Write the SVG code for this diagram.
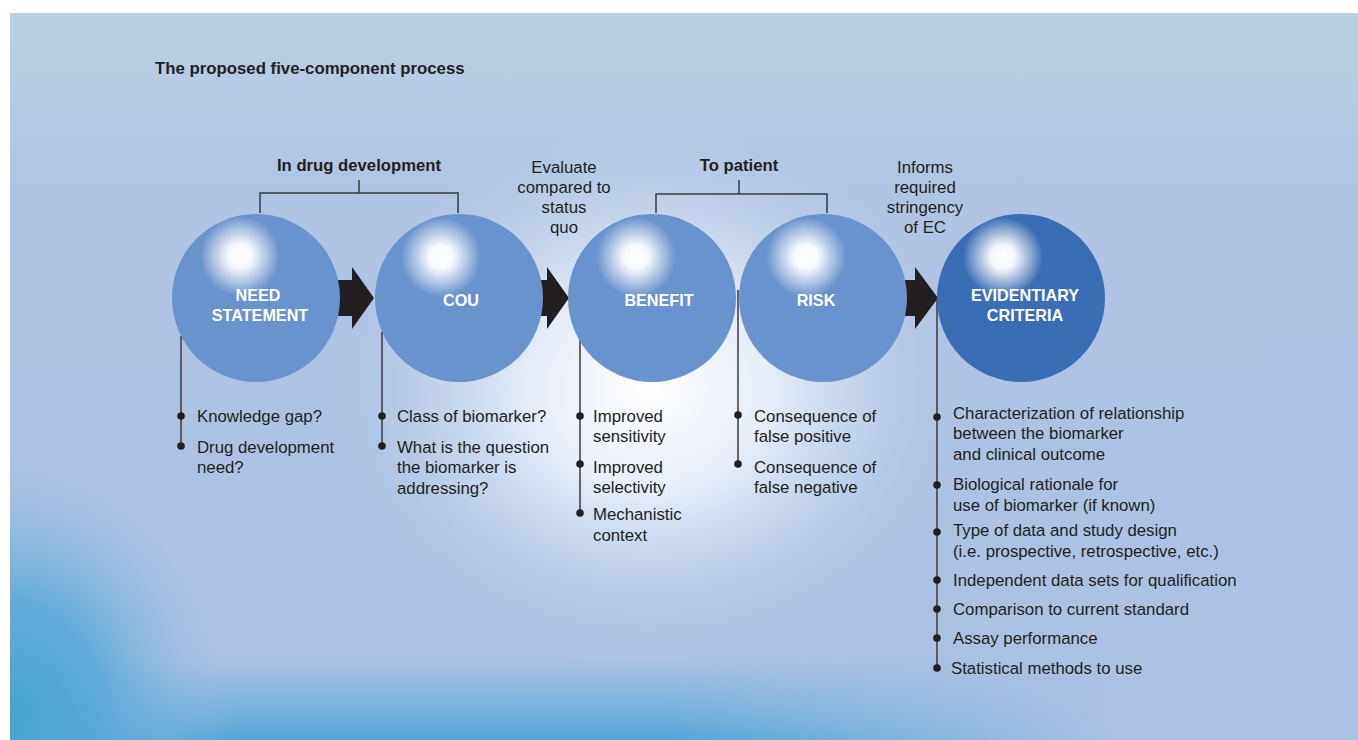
<svg xmlns="http://www.w3.org/2000/svg" width="1358" height="740" viewBox="0 0 1358 740">
  <defs>
    <linearGradient id="bgBase" x1="0" y1="0" x2="0" y2="1">
      <stop offset="0" stop-color="#bccfe2"/>
      <stop offset="0.25" stop-color="#afc4e5"/>
      <stop offset="1" stop-color="#a9c1e4"/>
    </linearGradient>
    <radialGradient id="bgGlow" cx="650" cy="390" r="330" gradientUnits="userSpaceOnUse" gradientTransform="translate(650 390) scale(1 0.85) translate(-650 -390)">
      <stop offset="0" stop-color="#ffffff" stop-opacity="1"/>
      <stop offset="0.35" stop-color="#f2f6fc" stop-opacity="0.85"/>
      <stop offset="0.7" stop-color="#d3e0f2" stop-opacity="0.4"/>
      <stop offset="1" stop-color="#b0c5e6" stop-opacity="0"/>
    </radialGradient>
    <radialGradient id="bgCorner" cx="10" cy="710" r="270" gradientUnits="userSpaceOnUse" gradientTransform="translate(10 710) scale(0.85 1) translate(-10 -710)">
      <stop offset="0" stop-color="#45a3d2"/>
      <stop offset="0.4" stop-color="#55a8d6" stop-opacity="0.85"/>
      <stop offset="1" stop-color="#a9c1e4" stop-opacity="0"/>
    </radialGradient>
    <linearGradient id="bgBottomFade" x1="0" y1="0" x2="0" y2="1">
      <stop offset="0" stop-color="#5aa9d7" stop-opacity="0"/>
      <stop offset="0.6" stop-color="#5aa9d7" stop-opacity="0.6"/>
      <stop offset="1" stop-color="#4da4d4" stop-opacity="0.95"/>
    </linearGradient>
    <linearGradient id="bgBottomMask" x1="0" y1="0" x2="1" y2="0">
      <stop offset="0" stop-color="#ffffff"/>
      <stop offset="0.6" stop-color="#ffffff"/>
      <stop offset="1" stop-color="#000000"/>
    </linearGradient>
    <mask id="bottomMask" maskUnits="userSpaceOnUse" x="10" y="640" width="1100" height="100">
      <rect x="10" y="640" width="1100" height="100" fill="url(#bgBottomMask)"/>
    </mask>
    <radialGradient id="shine" cx="0.5" cy="0.5" r="0.5">
      <stop offset="0" stop-color="#ffffff"/>
      <stop offset="0.3" stop-color="#ffffff" stop-opacity="0.95"/>
      <stop offset="1" stop-color="#ffffff" stop-opacity="0"/>
    </radialGradient>
  </defs>
  <style>
    .title { font-family: "Liberation Sans", Arial, sans-serif; font-size: 16.8px; font-weight: bold; fill: #231f20; }
    .head { font-family: "Liberation Sans", Arial, sans-serif; font-size: 16.7px; font-weight: bold; fill: #231f20; text-anchor: middle; }
    .note { font-family: "Liberation Sans", Arial, sans-serif; font-size: 16.8px; fill: #231f20; text-anchor: middle; }
    .item { font-family: "Liberation Sans", Arial, sans-serif; font-size: 16.8px; fill: #231f20; }
    .label { font-family: "Liberation Sans", Arial, sans-serif; font-size: 16.2px; font-weight: bold; fill: #ffffff; text-anchor: middle; }
    .ball { fill: #6993cc; }
    .ball-ec { fill: #3b6db4; }
    .glint { fill: url(#shine); }
    .wire { stroke: #3a3a3c; stroke-width: 1.5; fill: none; }
    .dot { fill: #231f20; }
    .arrow { fill: #231f20; }
  </style>

  <!-- backdrop -->
  <rect x="0" y="0" width="1358" height="740" fill="#ffffff"/>
  <rect x="10" y="13" width="1348" height="727" fill="url(#bgBase)"/>
  <rect x="10" y="13" width="1348" height="727" fill="url(#bgGlow)"/>
  <rect x="10" y="660" width="1100" height="80" fill="url(#bgBottomFade)" mask="url(#bottomMask)"/>
  <rect x="10" y="13" width="1348" height="727" fill="url(#bgCorner)"/>

  <text class="title" x="155" y="74">The proposed five-component process</text>

  <!-- group brackets and side notes -->
  <g id="bracket-drug">
    <text class="head" x="359" y="171">In drug development</text>
    <path class="wire" d="M359 180 V193 M260 213 V193 H458 V213"/>
  </g>
  <g id="bracket-patient">
    <text class="head" x="739" y="171">To patient</text>
    <path class="wire" d="M739 180 V194 M656 213 V194 H827 V213"/>
  </g>
  <g id="note-evaluate">
    <text class="note" x="564" y="173">Evaluate</text>
    <text class="note" x="564" y="193">compared to</text>
    <text class="note" x="564" y="213">status</text>
    <text class="note" x="564" y="233">quo</text>
  </g>
  <g id="note-informs">
    <text class="note" x="925" y="173">Informs</text>
    <text class="note" x="925" y="193">required</text>
    <text class="note" x="925" y="213">stringency</text>
    <text class="note" x="925" y="233">of EC</text>
  </g>

  <!-- connectors: block arrows and bullet rails -->
  <g id="connectors">
    <path class="arrow" d="M336 280 H352 V267 L374 298 L352 329 V316 H336 Z"/>
    <path class="arrow" d="M540 280 H547 V267 L569 298 L547 329 V316 H540 Z"/>
    <path class="arrow" d="M904 280 H915 V267 L938 298 L915 329 V316 H904 Z"/>
    <path class="wire" d="M181 336 V446"/>
    <path class="wire" d="M382 332 V446"/>
    <path class="wire" d="M580 340 V513"/>
    <path class="wire" d="M738 290 V464"/>
    <path class="wire" d="M937 298 V668"/>
  </g>

  <g id="need-statement">
    <circle class="ball" cx="256" cy="298" r="84"/>
    <circle class="glint" cx="240" cy="256" r="40"/>
    <text class="label" x="258" y="301">NEED</text>
    <text class="label" x="260" y="321">STATEMENT</text>
  </g>
  <g id="cou">
    <circle class="ball" cx="459" cy="298" r="84"/>
    <circle class="glint" cx="441" cy="257" r="40"/>
    <text class="label" x="461" y="306">COU</text>
  </g>
  <g id="benefit">
    <circle class="ball" cx="652" cy="298" r="84"/>
    <circle class="glint" cx="636" cy="257" r="40"/>
    <text class="label" x="659" y="306">BENEFIT</text>
  </g>
  <g id="risk">
    <circle class="ball" cx="823" cy="298" r="84"/>
    <circle class="glint" cx="806" cy="257" r="40"/>
    <text class="label" x="816" y="306">RISK</text>
  </g>
  <g id="evidentiary-criteria">
    <circle class="ball-ec" cx="1021" cy="298" r="84"/>
    <circle class="glint" cx="1003" cy="257" r="40"/>
    <text class="label" x="1025" y="301">EVIDENTIARY</text>
    <text class="label" x="1025" y="321">CRITERIA</text>
  </g>

  <g id="need-items">
    <circle class="dot" cx="181" cy="416" r="3.8"/>
    <circle class="dot" cx="181" cy="446" r="3.8"/>
    <text class="item" x="197" y="422">Knowledge gap?</text>
    <text class="item" x="197" y="453">Drug development</text>
    <text class="item" x="197" y="473">need?</text>
  </g>
  <g id="cou-items">
    <circle class="dot" cx="382" cy="416" r="3.8"/>
    <circle class="dot" cx="382" cy="446" r="3.8"/>
    <text class="item" x="397" y="422">Class of biomarker?</text>
    <text class="item" x="397" y="453">What is the question</text>
    <text class="item" x="397" y="473">the biomarker is</text>
    <text class="item" x="397" y="494">addressing?</text>
  </g>
  <g id="benefit-items">
    <circle class="dot" cx="580" cy="416" r="3.8"/>
    <circle class="dot" cx="580" cy="464" r="3.8"/>
    <circle class="dot" cx="580" cy="513" r="3.8"/>
    <text class="item" x="593" y="422">Improved</text>
    <text class="item" x="593" y="442">sensitivity</text>
    <text class="item" x="593" y="473">Improved</text>
    <text class="item" x="593" y="493">selectivity</text>
    <text class="item" x="593" y="520">Mechanistic</text>
    <text class="item" x="593" y="541">context</text>
  </g>
  <g id="risk-items">
    <circle class="dot" cx="738" cy="415" r="3.8"/>
    <circle class="dot" cx="738" cy="464" r="3.8"/>
    <text class="item" x="754" y="422">Consequence of</text>
    <text class="item" x="754" y="442">false positive</text>
    <text class="item" x="754" y="473">Consequence of</text>
    <text class="item" x="754" y="493">false negative</text>
  </g>
  <g id="ec-items">
    <circle class="dot" cx="937" cy="417" r="3.8"/>
    <circle class="dot" cx="937" cy="485" r="3.8"/>
    <circle class="dot" cx="937" cy="532" r="3.8"/>
    <circle class="dot" cx="937" cy="580" r="3.8"/>
    <circle class="dot" cx="937" cy="609" r="3.8"/>
    <circle class="dot" cx="937" cy="638" r="3.8"/>
    <circle class="dot" cx="937" cy="668" r="3.8"/>
    <text class="item" x="953" y="419">Characterization of relationship</text>
    <text class="item" x="953" y="439">between the biomarker</text>
    <text class="item" x="953" y="460">and clinical outcome</text>
    <text class="item" x="953" y="490">Biological rationale for</text>
    <text class="item" x="953" y="511">use of biomarker (if known)</text>
    <text class="item" x="953" y="536">Type of data and study design</text>
    <text class="item" x="953" y="557">(i.e. prospective, retrospective, etc.)</text>
    <text class="item" x="953" y="586">Independent data sets for qualification</text>
    <text class="item" x="953" y="615">Comparison to current standard</text>
    <text class="item" x="953" y="644">Assay performance</text>
    <text class="item" x="951" y="674">Statistical methods to use</text>
  </g>
</svg>
